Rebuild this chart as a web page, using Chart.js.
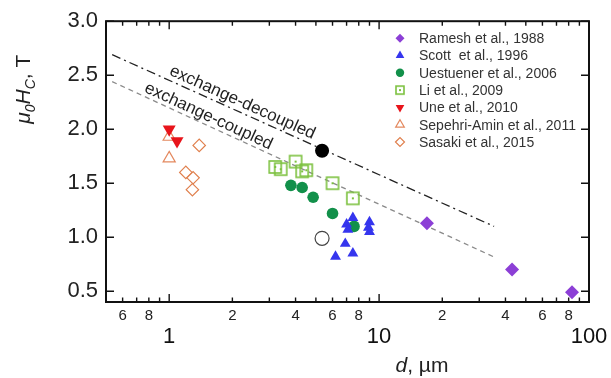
<!DOCTYPE html>
<html>
<head>
<meta charset="utf-8">
<script src="https://cdn.jsdelivr.net/npm/chart.js@4.4.0/dist/chart.umd.min.js"></script>
<style>
  html, body { margin: 0; padding: 0; background: #fff; }
</style>
</head>
<body>
<canvas id="grafico" width="611" height="378"></canvas>
<script>
// valores: d en µm, μ0Hc en T
const rameshD = [16.9, 43, 83];
const rameshH = [1.13, 0.70, 0.49];
const scottD = [6.2, 6.9, 7.5, 7.0, 7.1, 7.5, 9.0, 9.0, 8.9];
const scottH = [0.82, 0.94, 0.85, 1.12, 1.07, 1.18, 1.14, 1.05, 1.09];
const uestD = [3.8, 4.3, 4.85, 6.0, 7.6];
const uestH = [1.48, 1.46, 1.37, 1.22, 1.10];
const liD = [3.2, 3.4, 4.0, 4.3, 4.5, 6.0, 7.5];
const liH = [1.65, 1.63, 1.70, 1.61, 1.62, 1.50, 1.36];
const uneD = [1.0, 1.09];
const uneH = [2.0, 1.89];
const sepD = [1.0, 1.0];
const sepH = [1.93, 1.73];
const sasD = [1.39, 1.20, 1.30, 1.29];
const sasH = [1.85, 1.60, 1.55, 1.44];
const llenoD = [5.35];
const llenoH = [1.80];
const vacioD = [5.35];
const vacioH = [0.99];
const decoupledD = [0.535, 35.3];
const decoupledH = [2.69, 1.10];
const coupledD = [0.535, 35];
const coupledH = [2.44, 0.82];

// ticks
const xTicks = [0.5, 0.6, 0.7, 0.8, 0.9, 1, 2, 3, 4, 5, 6, 7, 8, 9, 10, 20, 30, 40, 50, 60, 70, 80, 90, 100];
const xMajor = [1, 10, 100];
const yTicks = [0.5, 1.0, 1.5, 2.0, 2.5, 3.0];

const FONT = "'Liberation Sans', Arial, sans-serif";

function puntos(xs, ys) {
  return xs.map((x, i) => ({ x, y: ys[i] }));
}

// cuadrado hueco con punto central (Li et al.)
function iconoLi(lado) {
  const c = document.createElement("canvas");
  c.width = lado + 4;
  c.height = lado + 4;
  const g = c.getContext("2d");
  g.strokeStyle = "#7cc13f";
  g.lineWidth = 1.6;
  g.strokeRect(2, 2, lado, lado);
  g.fillStyle = "#7cc13f";
  g.fillRect(c.width / 2 - 1, c.height / 2 - 1, 2, 2);
  return c;
}

const datasets = [
  { label: "Ramesh et al., 1988", data: puntos(rameshD, rameshH), pointStyle: "rectRot",
    pointRadius: 7, backgroundColor: "#8c3fd6", borderColor: "#8c3fd6", borderWidth: 0, legendR: 4.5 },
  { label: "Scott  et al., 1996", data: puntos(scottD, scottH), pointStyle: "triangle",
    pointRadius: 6.3, backgroundColor: "#3535ee", borderColor: "#3535ee", borderWidth: 0, legendR: 5 },
  { label: "Uestuener et al., 2006", data: puntos(uestD, uestH), pointStyle: "circle",
    pointRadius: 5.8, backgroundColor: "#12904a", borderColor: "#12904a", borderWidth: 0, legendR: 4.2 },
  { label: "Li et al., 2009", data: puntos(liD, liH), pointStyle: iconoLi(12),
    legendIcon: iconoLi(8), backgroundColor: "#7cc13f", borderColor: "#7cc13f" },
  { label: "Une et al., 2010", data: puntos(uneD, uneH), pointStyle: "triangle", rotation: 180,
    pointRadius: 7.5, backgroundColor: "#e8141b", borderColor: "#e8141b", borderWidth: 0, legendR: 5 },
  { label: "Sepehri-Amin et al., 2011", data: puntos(sepD, sepH), pointStyle: "triangle",
    pointRadius: 7, backgroundColor: "#fff", borderColor: "#e4895f", borderWidth: 1.2, legendR: 5 },
  { label: "Sasaki et al., 2015", data: puntos(sasD, sasH), pointStyle: "rectRot",
    pointRadius: 6.2, backgroundColor: "#fff", borderColor: "#e0804e", borderWidth: 1.2, legendR: 4.5 },
  { label: "lleno", data: puntos(llenoD, llenoH), pointStyle: "circle", pointRadius: 7,
    backgroundColor: "#000", borderColor: "#000", borderWidth: 0, noLegend: true },
  { label: "vacio", data: puntos(vacioD, vacioH), pointStyle: "circle", pointRadius: 7,
    backgroundColor: "rgba(0,0,0,0)", borderColor: "#444", borderWidth: 1.2, noLegend: true },
  { type: "line", label: "exchange-decoupled", data: puntos(decoupledD, decoupledH), showLine: true,
    pointRadius: 0, borderColor: "#222", borderWidth: 1.3, borderDash: [9, 4, 2, 4], noLegend: true,
    lineText: { at: 0.97, offset: 5 } },
  { type: "line", label: "exchange-coupled", data: puntos(coupledD, coupledH), showLine: true,
    pointRadius: 0, borderColor: "#8a8a8a", borderWidth: 1.3, borderDash: [5, 4], noLegend: true,
    lineText: { at: 0.74, offset: 4 } },
];

// marco y marcas de los ejes hacia adentro
const marcoPlugin = {
  id: "marco",
  beforeDatasetsDraw(chart) {
    const { ctx, chartArea: a, scales } = chart;
    ctx.save();
    ctx.strokeStyle = "#111";
    ctx.lineWidth = 1.4;
    ctx.beginPath();
    xTicks.forEach((v) => {
      const px = scales.x.getPixelForValue(v);
      const len = xMajor.includes(v) ? 8 : 4.5;
      ctx.moveTo(px, a.bottom);
      ctx.lineTo(px, a.bottom - len);
      ctx.moveTo(px, a.top);
      ctx.lineTo(px, a.top + len);
    });
    yTicks.forEach((v) => {
      const py = scales.y.getPixelForValue(v);
      ctx.moveTo(a.left, py);
      ctx.lineTo(a.left + 8, py);
      ctx.moveTo(a.right, py);
      ctx.lineTo(a.right - 8, py);
    });
    ctx.stroke();
    ctx.lineWidth = 2;
    ctx.strokeRect(a.left, a.top, a.right - a.left, a.bottom - a.top);
    ctx.restore();
  },
};

// textos sobre las rectas
const textoRectas = {
  id: "textoRectas",
  afterDatasetsDraw(chart) {
    const { ctx, scales } = chart;
    chart.data.datasets.forEach((ds) => {
      if (!ds.lineText) return;
      const p0 = { x: scales.x.getPixelForValue(ds.data[0].x), y: scales.y.getPixelForValue(ds.data[0].y) };
      const p1 = { x: scales.x.getPixelForValue(ds.data[1].x), y: scales.y.getPixelForValue(ds.data[1].y) };
      const ang = Math.atan2(p1.y - p0.y, p1.x - p0.x);
      const px = scales.x.getPixelForValue(ds.lineText.at);
      const py = p0.y + (px - p0.x) * Math.tan(ang);
      ctx.save();
      ctx.translate(px, py);
      ctx.rotate(ang);
      ctx.font = "17px " + FONT;
      ctx.fillStyle = "#222";
      ctx.textAlign = "left";
      ctx.textBaseline = "alphabetic";
      ctx.fillText(ds.label, 0, -ds.lineText.offset);
      ctx.restore();
    });
  },
};

// leyenda dentro del área
const leyenda = {
  id: "leyenda",
  afterDraw(chart) {
    const { ctx, chartArea: a } = chart;
    const x0 = a.right - 189;
    let y = a.top + 17;
    chart.data.datasets.forEach((ds) => {
      if (ds.noLegend) return;
      ctx.save();
      if (ds.legendIcon) {
        ctx.drawImage(ds.legendIcon, x0 - ds.legendIcon.width / 2, y - ds.legendIcon.height / 2);
      } else {
        ctx.fillStyle = ds.backgroundColor;
        ctx.strokeStyle = ds.borderColor;
        ctx.lineWidth = ds.borderWidth;
        Chart.helpers.drawPoint(ctx, {
          pointStyle: ds.pointStyle, rotation: ds.rotation || 0,
          radius: ds.legendR, borderWidth: ds.borderWidth,
        }, x0, y);
      }
      ctx.fillStyle = "#333";
      ctx.font = "14px " + FONT;
      ctx.textBaseline = "middle";
      ctx.textAlign = "left";
      ctx.fillText(ds.label, x0 + 19, y + 1);
      ctx.restore();
      y += 17.3;
    });
  },
};

// títulos de ejes con cursiva y subíndices
const titulos = {
  id: "titulos",
  afterDraw(chart) {
    const { ctx, chartArea: a } = chart;
    ctx.save();
    ctx.fillStyle = "#222";
    ctx.textBaseline = "alphabetic";
    // eje y
    const partes = [
      { t: "μ", f: "italic 21px " + FONT, dy: 0 },
      { t: "0", f: "italic 14px " + FONT, dy: 5 },
      { t: "H", f: "italic 21px " + FONT, dy: 0 },
      { t: "C", f: "italic 14px " + FONT, dy: 5 },
      { t: ", T", f: "21px " + FONT, dy: 0 },
    ];
    let total = 0;
    partes.forEach((p) => { ctx.font = p.f; p.w = ctx.measureText(p.t).width; total += p.w; });
    ctx.translate(30, a.top + 68);
    ctx.rotate(-Math.PI / 2);
    let x = -total / 2;
    partes.forEach((p) => { ctx.font = p.f; ctx.fillText(p.t, x, p.dy); x += p.w; });
    ctx.restore();

    // eje x
    ctx.save();
    ctx.fillStyle = "#222";
    ctx.textBaseline = "alphabetic";
    ctx.font = "italic 21px " + FONT;
    const wd = ctx.measureText("d").width;
    ctx.font = "21px " + FONT;
    const wr = ctx.measureText(", µm").width;
    const cx = chart.scales.x.getPixelForValue(16);
    let xx = cx - (wd + wr) / 2;
    const yy = a.bottom + 70;
    ctx.font = "italic 21px " + FONT;
    ctx.fillText("d", xx, yy);
    ctx.font = "21px " + FONT;
    ctx.fillText(", µm", xx + wd, yy);
    ctx.restore();
  },
};

new Chart(document.getElementById("grafico"), {
  type: "scatter",
  data: { datasets },
  options: {
    responsive: false,
    animation: false,
    devicePixelRatio: 1,
    layout: { padding: { left: 0, right: 22, top: 21, bottom: 0 } },
    plugins: { legend: { display: false }, tooltip: { enabled: false } },
    scales: {
      x: {
        type: "logarithmic",
        position: "bottom",
        weight: 0,
        min: 0.5,
        max: 100,
        grid: { display: false, drawTicks: false },
        border: { display: false },
        afterBuildTicks: (s) => { s.ticks = xTicks.map((v) => ({ value: v })); },
        afterFit: (s) => { s.height = 22; },
        ticks: {
          autoSkip: false,
          maxRotation: 0,
          padding: 5,
          color: "#222",
          font: { family: FONT, size: 15 },
          callback: (v) => {
            const m = v / Math.pow(10, Math.floor(Math.log10(v) + 1e-9));
            const r = Math.round(m);
            return [2, 4, 6, 8].includes(r) && Math.abs(m - r) < 1e-6 ? String(r) : "";
          },
        },
      },
      xMayor: {
        type: "logarithmic",
        position: "bottom",
        weight: 1,
        min: 0.5,
        max: 100,
        grid: { display: false, drawTicks: false },
        border: { display: false },
        afterBuildTicks: (s) => { s.ticks = xMajor.map((v) => ({ value: v })); },
        afterFit: (s) => { s.height = 54; },
        ticks: {
          autoSkip: false,
          maxRotation: 0,
          padding: 0,
          color: "#111",
          font: { family: FONT, size: 22 },
          callback: (v) => String(v),
        },
      },
      y: {
        min: 0.4,
        max: 3.0,
        grid: { display: false, drawTicks: false },
        border: { display: false },
        afterBuildTicks: (s) => { s.ticks = yTicks.map((v) => ({ value: v })); },
        afterFit: (s) => { s.width = 106; },
        ticks: {
          padding: 8,
          color: "#222",
          font: { family: FONT, size: 22 },
          callback: (v) => v.toFixed(1),
        },
      },
    },
  },
  plugins: [marcoPlugin, textoRectas, leyenda, titulos],
});
</script>
</body>
</html>
